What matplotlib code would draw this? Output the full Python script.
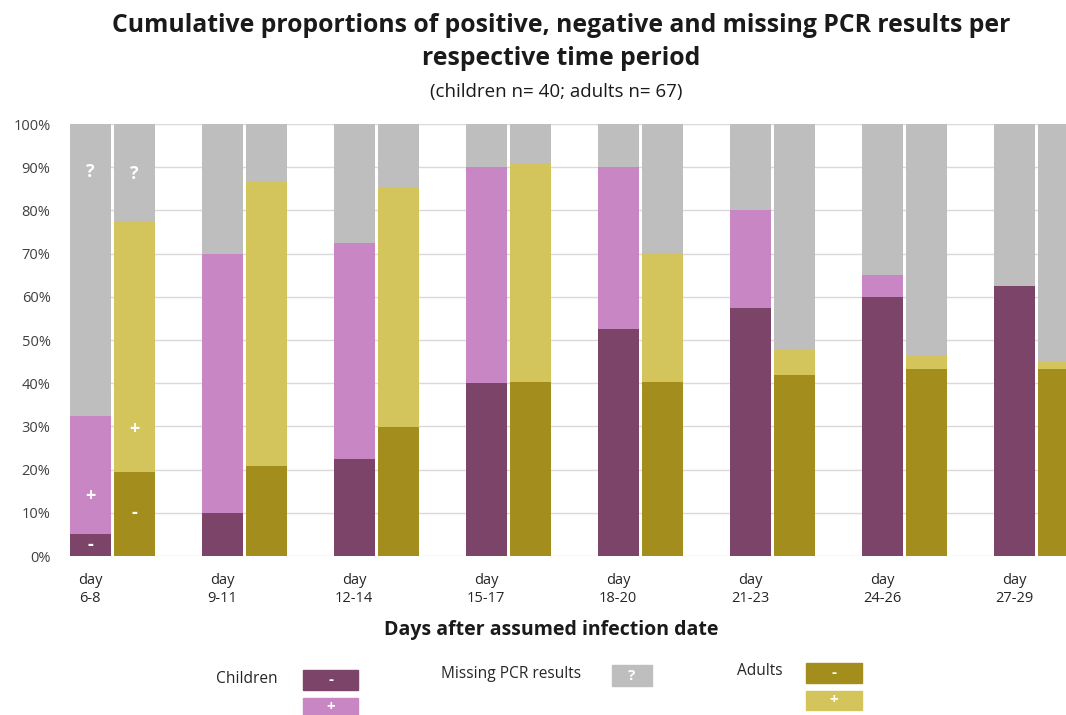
import matplotlib.pyplot as plt
from matplotlib.patches import Rectangle
import numpy as np

plt.rcParams['font.family'] = ['Open Sans', 'DejaVu Sans']

# time periods (days after assumed infection)
periods = ["6-8", "9-11", "12-14", "15-17", "18-20", "21-23", "24-26", "27-29"]

# children (n=40), percent of children per period
children_neg = [5.0, 10.0, 22.5, 40.0, 52.5, 57.5, 60.0, 62.5]
children_pos = [27.5, 60.0, 50.0, 50.0, 37.5, 22.5, 5.0, 0.0]

# adults (n=67), percent of adults per period
adults_neg = [19.4, 20.9, 29.9, 40.3, 40.3, 41.8, 43.3, 43.3]
adults_pos = [58.2, 65.7, 55.2, 50.7, 29.8, 6.0, 3.0, 1.5]

# colours
C_NEG = "#7B4468"
C_POS = "#C986C4"
A_NEG = "#A38D1C"
A_POS = "#D4C45C"
MISS = "#BEBEBE"

children_neg = np.array(children_neg)
children_pos = np.array(children_pos)
adults_neg = np.array(adults_neg)
adults_pos = np.array(adults_pos)
children_miss = 100 - children_neg - children_pos
adults_miss = 100 - adults_neg - adults_pos

x = np.arange(len(periods))
w = 0.31
off = 0.167

fig = plt.figure(figsize=(10.66, 7.15), dpi=100)
ax = fig.add_axes([70 / 1066, 159 / 715, 996 / 1066, 432 / 715])

# children bars
ax.bar(x - off, children_neg, w, color=C_NEG, zorder=3)
ax.bar(x - off, children_pos, w, bottom=children_neg, color=C_POS, zorder=3)
ax.bar(x - off, children_miss, w, bottom=children_neg + children_pos, color=MISS, zorder=3)

# adult bars
ax.bar(x + off, adults_neg, w, color=A_NEG, zorder=3)
ax.bar(x + off, adults_pos, w, bottom=adults_neg, color=A_POS, zorder=3)
ax.bar(x + off, adults_miss, w, bottom=adults_neg + adults_pos, color=MISS, zorder=3)

# symbols inside the first pair of bars
sym = dict(color="white", ha="center", va="center", fontsize=13, fontweight="bold", zorder=4)
ax.text(x[0] - off, 89, "?", **sym)
ax.text(x[0] - off, 14, "+", **sym)
ax.text(x[0] - off, 2.5, "-", **sym)
ax.text(x[0] + off, 88.5, "?", **sym)
ax.text(x[0] + off, 29.5, "+", **sym)
ax.text(x[0] + off, 10, "-", **sym)

ax.set_ylim(0, 100)
ax.set_xlim(-0.322, 7.223)
ax.set_yticks(np.arange(0, 101, 10))
ax.set_yticklabels([f"{v}%" for v in range(0, 101, 10)], fontsize=10.5, color="#404040")
ax.set_xticks(x - 0.17)
ax.set_xticklabels([f"day\n{p}" for p in periods], fontsize=10.5, color="#262626", linespacing=1.3)
ax.tick_params(length=0, pad=12)
ax.tick_params(axis="y", pad=14)
ax.grid(axis="y", color="#D9D9D9", lw=1, zorder=0)
for s in ax.spines.values():
    s.set_visible(False)

ax.set_xlabel("Days after assumed infection date", fontsize=14, fontweight="bold",
              color="#1a1a1a")
ax.xaxis.set_label_coords((551 - 70) / 996, -(630 - 556) / 432)
ax.xaxis.label.set_va("center")

fig.text(561 / 1066, 1 - 42 / 715,
         "Cumulative proportions of positive, negative and missing PCR results per\nrespective time period",
         ha="center", va="center", fontsize=17.8, fontweight="bold", color="#1a1a1a", linespacing=1.45)
fig.text(556 / 1066, 1 - 92 / 715, "(children n= 40; adults n= 67)", ha="center", va="center",
         fontsize=13.5, color="#1a1a1a")

# legend drawn by hand
def box(x0, y0, x1, y1, col, label):
    fig.patches.append(Rectangle((x0 / 1066, 1 - y1 / 715), (x1 - x0) / 1066, (y1 - y0) / 715,
                                 transform=fig.transFigure, color=col))
    fig.text((x0 + x1) / 2 / 1066, 1 - (y0 + y1) / 2 / 715, label, color="white",
             ha="center", va="center", fontsize=11, fontweight="bold")

fig.text(247 / 1066, 1 - 679 / 715, "Children", ha="center", va="center", fontsize=11.2, color="#262626")
box(303, 670, 358, 690, C_NEG, "-")
box(303, 698, 358, 716, C_POS, "+")
fig.text(511 / 1066, 1 - 674 / 715, "Missing PCR results", ha="center", va="center", fontsize=11.2, color="#262626")
box(612, 665, 652, 686, MISS, "?")
fig.text(760 / 1066, 1 - 671 / 715, "Adults", ha="center", va="center", fontsize=11.2, color="#262626")
box(806, 663, 862, 683, A_NEG, "-")
box(806, 691, 862, 710, A_POS, "+")

fig.savefig("out.png", dpi=100)
